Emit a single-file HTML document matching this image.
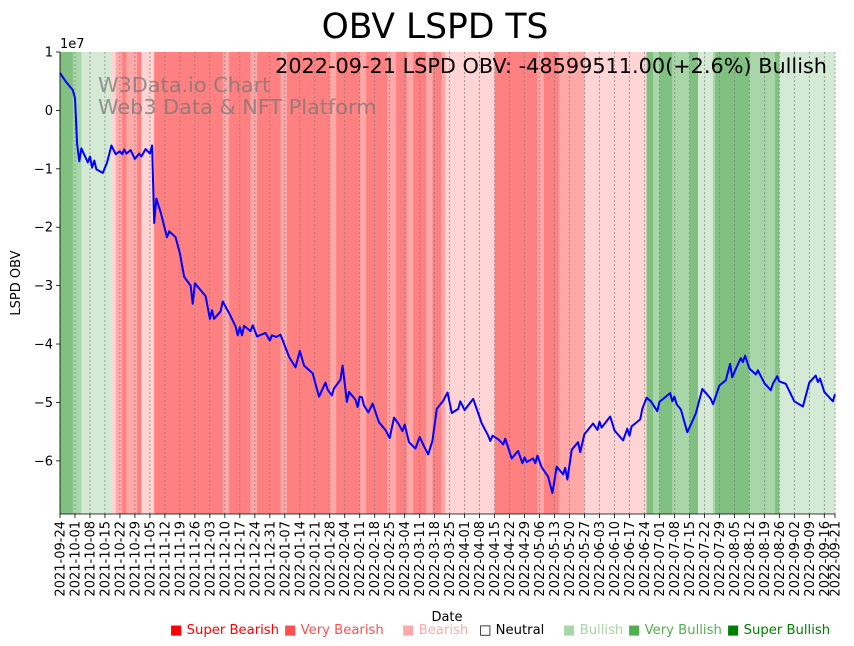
<!DOCTYPE html>
<html><head><meta charset="utf-8"><style>
body{margin:0;background:#fff;}
svg{display:block;font-family:"DejaVu Sans","Liberation Sans",sans-serif;}
</style></head><body>
<svg id="chart" width="854" height="646" viewBox="0 0 854 646" xmlns="http://www.w3.org/2000/svg">
<g id="bands"></g>
<g id="grid"></g>
<text x="98" y="92" font-size="20.8" fill="#777" fill-opacity="0.75">W3Data.io Chart</text>
<text x="98" y="114" font-size="20.8" fill="#777" fill-opacity="0.75">Web3 Data &amp; NFT Platform</text>
<g id="series"></g>
<g id="axes"></g>
<text x="435" y="38" font-size="34.5" text-anchor="middle" fill="#000">OBV LSPD TS</text>
<text x="827" y="73" font-size="20.8" text-anchor="end" fill="#000">2022-09-21 LSPD OBV: -48599511.00(+2.6%) Bullish</text>
<text x="60" y="48" font-size="13" fill="#000">1e7</text>
<text x="20" y="283" font-size="13" text-anchor="middle" transform="rotate(-90 20 283)">LSPD OBV</text>
<text x="447" y="621" font-size="13" text-anchor="middle">Date</text>
<g id="legend" font-size="13.2"></g>
</svg>
<script>
const startDate = [2021, 8, 24];
const totalDays = 362;
const yTicks = [1, 0, -1, -2, -3, -4, -5, -6];
const bandStart = [0,6,10,24,26,29,31,36,38,44,76,79,89,92,103,106,126,129,140,143,153,157,162,165,171,174,178,180,203,223,226,233,245,274,277,280,286,294,298,305,306,322,334,336];
const bandCat = [3,2,1,-1,-2,-3,-2,-3,-1,-3,-2,-3,-2,-3,-2,-3,-2,-3,-2,-3,-2,-3,-2,-3,-2,-3,-2,-1,-3,-2,-3,-2,-1,3,2,3,2,3,1,2,3,2,3,1];
const obvDays = [0,3,6,7,8,9,10,13,14,15,16,17,20,22,24,26,28,29,30,31,33,35,37,38,40,42,43,44,45,47,50,51,54,56,58,61,62,63,68,70,71,72,75,76,79,82,83,84,85,86,89,90,92,96,98,99,101,103,107,110,112,114,118,121,124,125,127,128,131,132,134,135,138,139,140,141,142,144,146,149,152,154,156,158,160,161,163,166,168,170,172,174,176,179,181,183,186,187,189,193,197,200,201,202,205,207,208,211,214,216,217,218,221,222,223,225,228,230,232,235,236,237,239,242,243,245,249,251,252,253,257,259,263,265,266,267,271,272,274,276,279,280,285,286,287,288,290,293,295,297,300,302,304,305,308,311,313,314,316,318,319,320,322,325,326,329,332,333,335,336,339,343,347,350,353,354,355,357,360,361,362];
const obvValues = [0.64,0.48,0.35,0.21,-0.57,-0.87,-0.65,-0.89,-0.79,-0.98,-0.86,-1.01,-1.07,-0.89,-0.60,-0.75,-0.70,-0.75,-0.67,-0.74,-0.68,-0.83,-0.74,-0.79,-0.66,-0.74,-0.60,-1.93,-1.51,-1.74,-2.17,-2.07,-2.17,-2.45,-2.85,-3.00,-3.31,-2.96,-3.18,-3.57,-3.42,-3.57,-3.44,-3.27,-3.47,-3.70,-3.85,-3.71,-3.85,-3.69,-3.78,-3.68,-3.87,-3.81,-3.94,-3.85,-3.88,-3.84,-4.22,-4.40,-4.12,-4.37,-4.50,-4.90,-4.66,-4.78,-4.88,-4.76,-4.61,-4.37,-4.99,-4.82,-4.95,-5.08,-4.90,-4.91,-5.05,-5.17,-5.02,-5.34,-5.47,-5.61,-5.26,-5.36,-5.49,-5.38,-5.68,-5.79,-5.59,-5.75,-5.89,-5.65,-5.11,-4.97,-4.83,-5.18,-5.11,-4.98,-5.13,-4.94,-5.36,-5.57,-5.66,-5.57,-5.64,-5.72,-5.62,-5.96,-5.83,-6.04,-5.94,-6.02,-5.96,-6.04,-5.91,-6.11,-6.27,-6.55,-6.10,-6.23,-6.12,-6.32,-5.81,-5.68,-5.85,-5.54,-5.36,-5.47,-5.33,-5.43,-5.24,-5.48,-5.65,-5.45,-5.57,-5.41,-5.29,-5.11,-4.92,-4.98,-5.15,-4.99,-4.84,-4.98,-4.90,-5.03,-5.12,-5.51,-5.35,-5.19,-4.77,-4.85,-4.94,-5.03,-4.71,-4.62,-4.34,-4.57,-4.40,-4.24,-4.31,-4.20,-4.42,-4.52,-4.45,-4.67,-4.79,-4.68,-4.55,-4.64,-4.68,-4.98,-5.07,-4.66,-4.54,-4.65,-4.59,-4.82,-4.94,-4.98,-4.86];
const legendLabels = ["Super Bearish","Very Bearish","Bearish","Neutral","Bullish","Very Bullish","Super Bullish"];

const NS = "http://www.w3.org/2000/svg";
const X0 = 60, X1 = 835, Y0 = 52, Y1 = 514;
const yMax = 1, yMin = -6.91;
function xScale(d){ return X0 + (X1 - X0) * d / totalDays; }
function yScale(v){ return Y0 + (Y1 - Y0) * (yMax - v) / (yMax - yMin); }
const bandColor = {"-3":"#ff8080","-2":"#ffa8a8","-1":"#ffd4d4","0":"#ffffff","1":"#d4ead4","2":"#a8d6a8","3":"#80c080"};
function mk(tag, attrs, parent){ const e = document.createElementNS(NS, tag); for (const k in attrs) e.setAttribute(k, attrs[k]); parent.appendChild(e); return e; }

const bandsG = document.getElementById("bands");
for (let i = 0; i < bandStart.length; i++) {
  const s = bandStart[i], e = i + 1 < bandStart.length ? bandStart[i+1] : totalDays;
  const r = mk("rect", {x: xScale(s), y: Y0, width: xScale(e) - xScale(s) + 0.3, height: Y1 - Y0, fill: bandColor[String(bandCat[i])]}, bandsG);
  
  
}

const gridG = document.getElementById("grid");
const axesG = document.getElementById("axes");
const tickDays = [];
for (let d = 0; d <= totalDays - 5; d += 7) tickDays.push(d);
tickDays.push(totalDays);
function fmt(d){ const dt = new Date(Date.UTC(startDate[0], startDate[1], startDate[2] + d)); return dt.toISOString().slice(0,10); }
tickDays.forEach(d => {
  const x = xScale(d);
  const g = mk("line", {x1: x, x2: x, y1: Y0, y2: Y1, stroke: "#808080", "stroke-width": 0.7, "stroke-dasharray": "2,2"}, gridG);
  
  
  const t = mk("line", {x1: x, x2: x, y1: Y1, y2: Y1 + 4, stroke: "#000", "stroke-width": 0.8}, axesG);
  
  
  const lbl = mk("text", {x: x + 4.5, y: Y1 + 7, "font-size": 13, "text-anchor": "end", transform: `rotate(-90 ${x + 4.5} ${Y1 + 7})`}, axesG);
  lbl.textContent = fmt(d);
  
  
});
yTicks.forEach(v => {
  const y = yScale(v);
  const t = mk("line", {x1: X0 - 4, x2: X0, y1: y, y2: y, stroke: "#000", "stroke-width": 0.8}, axesG);
  
  
  const lbl = mk("text", {x: X0 - 7, y: y + 4.5, "font-size": 13, "text-anchor": "end"}, axesG);
  lbl.textContent = v < 0 ? "\u2212" + Math.abs(v) : String(v);
  
  
});
const la = mk("line", {x1: X0, x2: X0, y1: Y0, y2: Y1, stroke: "#000", "stroke-width": 0.8}, axesG);


const lb = mk("line", {x1: X0, x2: X1, y1: Y1, y2: Y1, stroke: "#000", "stroke-width": 0.8}, axesG);



const pts = obvDays.map((d, i) => xScale(d).toFixed(1) + "," + yScale(obvValues[i]).toFixed(1)).join(" ");
const line = mk("polyline", {points: pts, fill: "none", stroke: "#0000ff", "stroke-width": 2, "stroke-linejoin": "round"}, document.getElementById("series"));



const legendColors = ["#ff0000","#ff5050","#ffaaaa","#000000","#aad4aa","#50b050","#008000"];
const legendX = [170, 284, 402, 479, 563, 628, 727];
const legG = document.getElementById("legend");
legendLabels.forEach((name, i) => {
  const t = mk("text", {x: legendX[i], y: 634, fill: legendColors[i]}, legG);
  t.textContent = (i === 3 ? "\u25A1 " : "\u25A0 ") + name;
  
  
});
</script>
</body></html>
